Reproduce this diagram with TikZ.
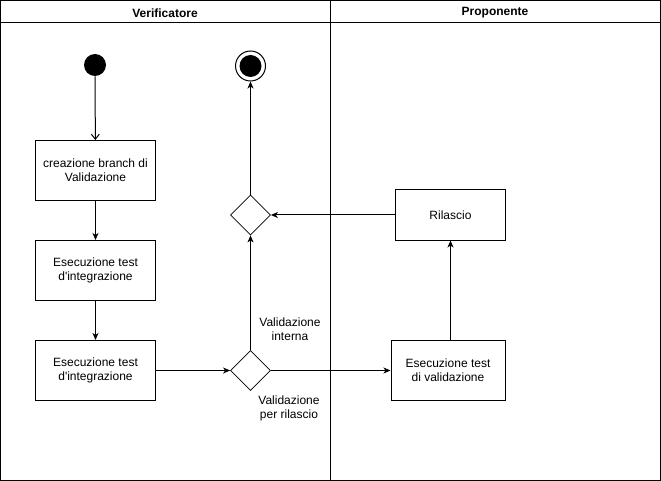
\documentclass[tikz,border=0pt]{standalone}
\usepackage{fontspec}
\setmainfont{Liberation Sans}
\usetikzlibrary{arrows.meta,shapes.geometric}
\begin{document}
\begin{tikzpicture}[x=1pt,y=-1pt,line width=1pt,
  every node/.style={font=\fontsize{12}{14}\selectfont},
  actbox/.style={draw,fill=white,minimum width=120pt,minimum height=60pt,align=center,inner sep=0pt},
  gate/.style={draw,diamond,fill=white,minimum width=40pt,minimum height=40pt,inner sep=0pt,line width=0.8pt},
  flow/.style={-{Stealth[length=7pt,width=6pt,inset=2pt]}},
  openflow/.style={-{Straight Barb[length=5pt,width=8pt]}},
  lbl/.style={align=center}]
\useasboundingbox (0,0) rectangle (661,481);
% swimlanes
\draw (0.5,0.5) rectangle (660,480);
\draw (0.5,23) -- (660,23);
\draw (330.5,0.5) -- (330.5,480);
\node[font=\fontsize{12}{14}\selectfont\bfseries] (hv) at (165,13) {Verificatore};
\node[font=\fontsize{12}{14}\selectfont\bfseries] (hp) at (495,13) {Proponente};
% nodes
\node[circle,fill=black,minimum size=22pt,inner sep=0pt] (start) at (95,65) {};
\node[circle,draw,minimum size=30pt,inner sep=0pt] (endo) at (250.5,66) {};
\node[circle,fill=black,minimum size=22pt,inner sep=0pt] (endi) at (250.5,66) {};
\node[actbox] (b1) at (95.5,170.5) {creazione branch di\\Validazione};
\node[actbox] (b2) at (95.5,270.5) {Esecuzione test\\d\textquotesingle integrazione};
\node[actbox] (b3) at (95.5,370.5) {Esecuzione test\\d\textquotesingle integrazione};
\node[gate] (d1) at (250.5,215) {};
\node[gate] (d2) at (250.5,370.5) {};
\node[draw,fill=white,minimum width=110pt,minimum height=50pt,inner sep=0pt] (ril) at (450.5,215) {Rilascio};
\node[actbox,minimum width=114pt] (val) at (448,370.5) {Esecuzione test\\di validazione};
% labels
\node[lbl] (l1) at (290,329.5) {Validazione\\interna};
\node[lbl] (l2) at (289,408.5) {Validazione\\per rilascio};
% connectors
\draw[openflow] (start) -- (b1);
\draw[flow] (b1) -- (b2);
\draw[flow] (b2) -- (b3);
\draw[flow] (b3) -- (d2);
\draw[flow] (d2) -- (d1);
\draw[flow] (d2) -- (val);
\draw[flow] (val.north -| ril) -- (ril);
\draw[flow] (ril) -- (d1);
\draw[flow] (d1) -- (endo);
\end{tikzpicture}
\end{document}
